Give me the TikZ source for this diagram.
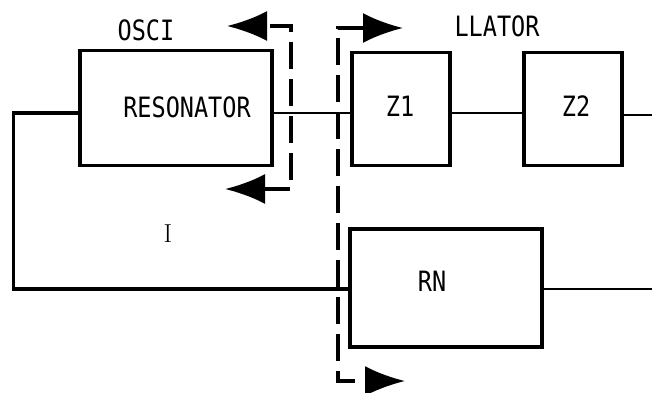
\documentclass[tikz,border=0pt]{standalone}
\usepackage{fontspec}
\setmonofont{DejaVu Sans Mono}[FakeStretch=0.84]
\usetikzlibrary{arrows.meta,positioning,calc}

\begin{document}
\begin{tikzpicture}[
  x=1pt, y=-1pt,
  blk/.style={draw, line width=3.2pt, inner sep=0pt},
  lbl/.style={font=\ttfamily\fontsize{28}{28}\selectfont, inner sep=0pt},
  wire/.style={line width=2.4pt},
  loop/.style={line width=3.4pt},
  cut/.style={line width=3.2pt, dash pattern=on 27pt off 10pt,
    {Latex[length=40pt,width=30pt,sep=5pt]}-{Latex[length=40pt,width=30pt,sep=5pt]}}
]
\useasboundingbox (0,0) rectangle (652,392);

% ---------- Blocks ----------
\node[blk, minimum width=192pt, minimum height=115pt] (res) at (176,108) {};
\node[blk, minimum width=98pt, minimum height=113pt] (z1) at (401,109) {};
\node[blk, minimum width=98pt, minimum height=113pt] (z2) at (573,109) {};
\node[blk, minimum width=192pt, minimum height=118pt] (rn) at (446,288) {};

% ---------- Texts ----------
\node[lbl] (resT) at (187,107) {RESONATOR};
\node[lbl] (z1T) at (400,106) {Z1};
\node[lbl] (z2T) at (576,106) {Z2};
\node[lbl] (rnT) at (432,281) {RN};
\node[lbl] (osci) at (146,30) {OSCI};
\node[lbl] (llator) at (497,26) {LLATOR};
\node[font=\fontsize{26}{26}\selectfont, inner sep=0pt] (cur) at (168,234) {I};

% ---------- Signal path ----------
\coordinate (bus) at (0,113);
\coordinate (outA) at (652,115);
\coordinate (outB) at (652,289);
\draw[wire] (res.east |- bus) -- (z1.west |- bus);
\draw[wire] (z1.east |- bus) -- (z2.west |- bus);
\draw[wire] (z2.east |- outA) -- (outA);
\draw[wire] (rn.east |- outB) -- (outB);
\draw[loop] (res.west |- bus) -- ++(-65,0) |- (rn.west |- outB);

% ---------- Cut lines ----------
\coordinate (lcB) at (220,189);
\coordinate (lcT) at (222,26);
\coordinate (rcT) at (408,28);
\coordinate (rcB) at (410,381);
\draw[cut] (lcB) -- ++(71,0) |- (lcT);
\draw[cut] (rcT) -- ++(-70,0) |- (rcB);
\end{tikzpicture}
\end{document}
